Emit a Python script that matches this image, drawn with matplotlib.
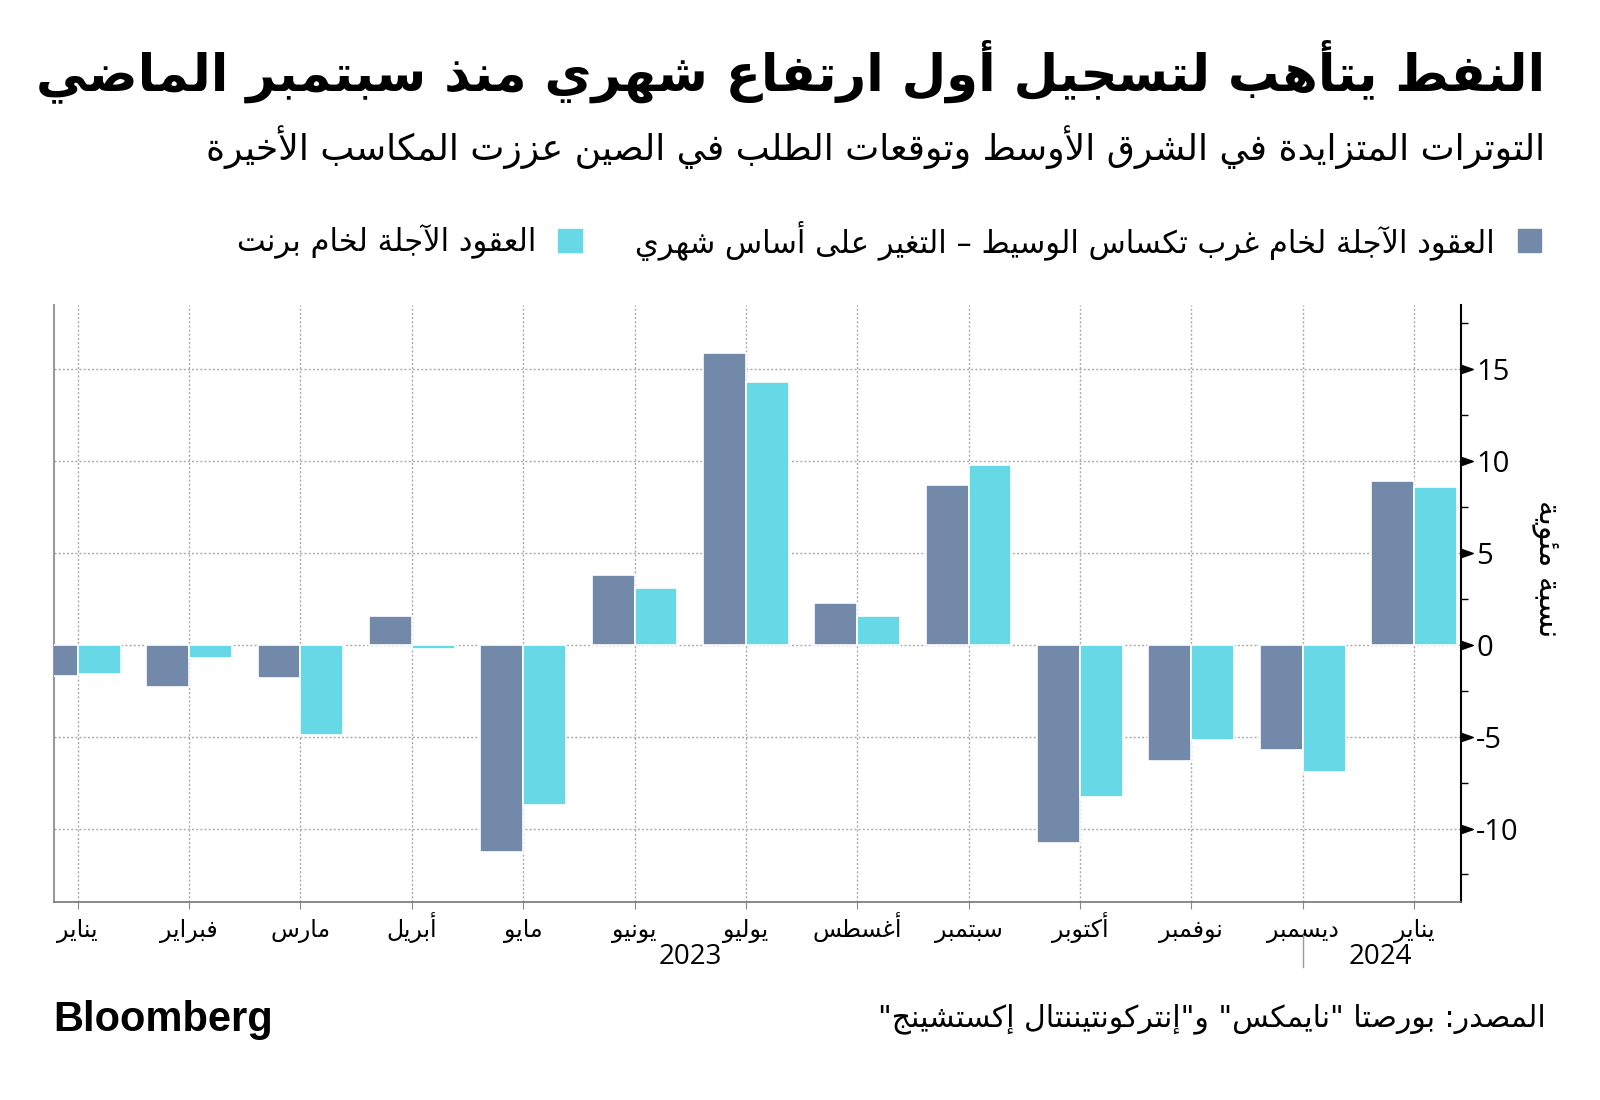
import matplotlib
matplotlib.use("Agg")
import matplotlib.pyplot as plt
from matplotlib.path import Path
from matplotlib.markers import MarkerStyle
import numpy as np

# --- data ---
months = ["يناير", "فبراير", "مارس", "أبريل", "مايو", "يونيو", "يوليو",
          "أغسطس", "سبتمبر", "أكتوبر", "نوفمبر", "ديسمبر", "يناير"]
wti = [-1.7, -2.3, -1.8, 1.55, -11.3, 3.8, 15.9, 2.3, 8.7, -10.8, -6.3, -5.7, 8.9]
brent = [-1.6, -0.7, -4.9, -0.25, -8.7, 3.1, 14.3, 1.55, 9.8, -8.3, -5.2, -6.9, 8.6]
yticks = [-10, -5, 0, 5, 10, 15]
years = ["2023", "2024"]

title = "النفط يتأهب لتسجيل أول ارتفاع شهري منذ سبتمبر الماضي"
subtitle = "التوترات المتزايدة في الشرق الأوسط وتوقعات الطلب في الصين عززت المكاسب الأخيرة"
label_wti = "العقود الآجلة لخام غرب تكساس الوسيط – التغير على أساس شهري"
label_brent = "العقود الآجلة لخام برنت"
ylabel = "نسبة مئوية"
source = 'المصدر: بورصتا "نايمكس" و"إنتركونتيننتال إكستشينج"'

C_WTI = "#7289aa"
C_BRENT = "#66d8e6"

# --- minimal arabic shaping (presentation forms) + visual reordering ---
DUAL = {0x0626: 0xFE89, 0x0628: 0xFE8F, 0x062A: 0xFE95, 0x062B: 0xFE99,
        0x062C: 0xFE9D, 0x062D: 0xFEA1, 0x062E: 0xFEA5, 0x0633: 0xFEB1,
        0x0634: 0xFEB5, 0x0635: 0xFEB9, 0x0636: 0xFEBD, 0x0637: 0xFEC1,
        0x0638: 0xFEC5, 0x0639: 0xFEC9, 0x063A: 0xFECD, 0x0641: 0xFED1,
        0x0642: 0xFED5, 0x0643: 0xFED9, 0x0644: 0xFEDD, 0x0645: 0xFEE1,
        0x0646: 0xFEE5, 0x0647: 0xFEE9, 0x064A: 0xFEF1}
RIGHT = {0x0622: 0xFE81, 0x0623: 0xFE83, 0x0624: 0xFE85, 0x0625: 0xFE87,
         0x0627: 0xFE8D, 0x0629: 0xFE93, 0x062F: 0xFEA9, 0x0630: 0xFEAB,
         0x0631: 0xFEAD, 0x0632: 0xFEAF, 0x0648: 0xFEED, 0x0649: 0xFEEF}
LAMALEF = {0x0622: 0xFEF5, 0x0623: 0xFEF7, 0x0625: 0xFEF9, 0x0627: 0xFEFB}


def ar(s):
    # merge lam + alef into a ligature token
    toks = []
    i = 0
    while i < len(s):
        c = ord(s[i])
        if c == 0x0644 and i + 1 < len(s) and ord(s[i + 1]) in LAMALEF:
            toks.append(("R", LAMALEF[ord(s[i + 1])]))
            i += 2
            continue
        if c in DUAL:
            toks.append(("D", DUAL[c]))
        elif c in RIGHT:
            toks.append(("R", RIGHT[c]))
        else:
            toks.append(("U", s[i]))
        i += 1
    out = []
    for k, (kind, base) in enumerate(toks):
        if kind == "U":
            out.append(base)
            continue
        prev_ok = k > 0 and toks[k - 1][0] == "D"
        next_ok = kind == "D" and k + 1 < len(toks) and toks[k + 1][0] in ("D", "R")
        if prev_ok and next_ok:
            off = 3
        elif prev_ok:
            off = 1
        elif next_ok:
            off = 2
        else:
            off = 0
        out.append(chr(base + off))
    return "".join(out)[::-1]


AR = ["DejaVu Sans"]
NUM = ["Liberation Sans Narrow", "Open Sans", "DejaVu Sans"]

fig = plt.figure(figsize=(16, 11), dpi=100)
ax = fig.add_axes([0.034, 0.18, 0.879, 0.5427])

x = np.arange(len(months))
w = 0.385
ax.bar(x - w / 2, wti, width=w, color=C_WTI, edgecolor="white", linewidth=1.2, zorder=3)
ax.bar(x + w / 2, brent, width=w, color=C_BRENT, edgecolor="white", linewidth=1.2, zorder=3)

ax.set_xlim(-0.21, 12.42)
ax.set_ylim(-14, 18.5)

# grid
ax.set_xticks(x)
ax.set_xticklabels([ar(m) for m in months], fontsize=17, family=AR)
for lab in ax.get_xticklabels():
    lab.set_va("baseline")
ax.tick_params(axis="x", length=5, color="#888888", pad=20)
ax.grid(True, axis="both", linestyle=(0, (1.5, 1.5)), color="#aaaaaa", linewidth=1, zorder=0)

# y axis on right
ax.yaxis.tick_right()
ax.set_yticks(yticks)
ax.set_yticklabels([str(v) for v in yticks], fontsize=21, family=NUM)
ax.set_yticks(np.arange(-12.5, 18.5, 5), minor=True)
ax.tick_params(axis="y", which="minor", length=5, width=1, color="black", right=True, left=False)
ax.tick_params(axis="y", which="major", length=0, pad=11)
tri = MarkerStyle(Path([(0, -0.35), (0, 0.35), (1, 0), (0, -0.35)],
                       [Path.MOVETO, Path.LINETO, Path.LINETO, Path.CLOSEPOLY]))
for v in yticks:
    ax.plot([1.0], [v], marker=tri, markersize=17, color="black",
            transform=ax.get_yaxis_transform(), clip_on=False, zorder=5)

ax.spines["top"].set_visible(False)
ax.spines["right"].set_color("black")
ax.spines["right"].set_linewidth(1.5)
ax.spines["left"].set_color("#999999")
ax.spines["left"].set_linewidth(1.5)
ax.spines["bottom"].set_color("#777777")
ax.spines["bottom"].set_linewidth(1.2)

ax.text(1.061, 0.558, ar(ylabel), transform=ax.transAxes, rotation=-90,
        ha="center", va="center", fontsize=22, family=AR)

# years
ax.text(5.5, -0.092, years[0], transform=ax.get_xaxis_transform(), ha="center",
        va="center", fontsize=20, family=NUM)
ax.text(11.7, -0.092, years[1], transform=ax.get_xaxis_transform(), ha="center",
        va="center", fontsize=20, family=NUM)
ax.plot([11, 11], [-0.055, -0.109], color="#999999", lw=1,
        transform=ax.get_xaxis_transform(), clip_on=False)

# titles
fig.text(0.966, 0.935, ar(title), ha="right", va="center", fontsize=37,
         fontweight="bold", family=AR)
fig.text(0.966, 0.866, ar(subtitle), ha="right", va="center", fontsize=26, family=AR)

# legend
fig.patches.append(plt.Rectangle((0.9485, 0.771), 0.0145, 0.021, color=C_WTI,
                                 transform=fig.transFigure, figure=fig))
fig.text(0.934, 0.781, ar(label_wti), ha="right", va="center", fontsize=22, family=AR)
fig.patches.append(plt.Rectangle((0.349, 0.771), 0.0145, 0.021, color=C_BRENT,
                                 transform=fig.transFigure, figure=fig))
fig.text(0.335, 0.781, ar(label_brent), ha="right", va="center", fontsize=22, family=AR)

# footer
fig.text(0.966, 0.074, ar(source), ha="right", va="center", fontsize=21.5, family=AR)
fig.text(0.033, 0.073, "Bloomberg", ha="left", va="center", fontsize=30,
         fontweight="bold", family=["Liberation Sans", "DejaVu Sans"])

fig.savefig("out.png", dpi=100, facecolor="white")
